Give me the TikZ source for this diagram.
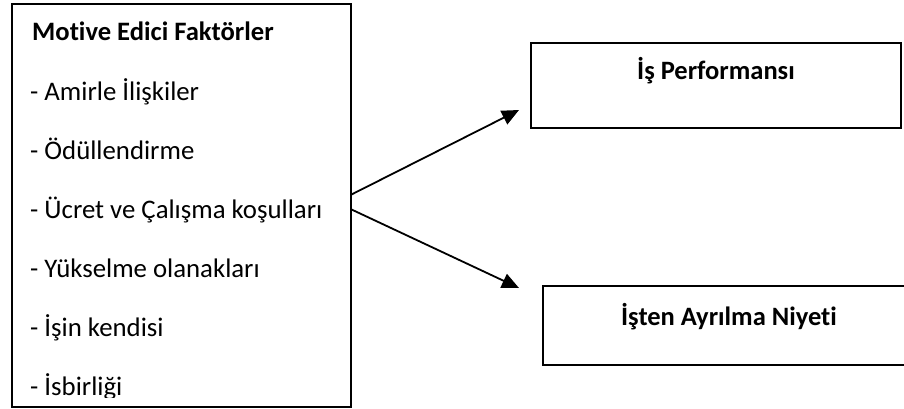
\documentclass[tikz,border=0pt]{standalone}
\usepackage{fontspec}
\setmainfont{Carlito}[Ligatures=CommonOff]
\usetikzlibrary{arrows.meta}
\begin{document}
\begin{tikzpicture}[x=1pt,y=-1pt,
  box/.style={draw=black,line width=2pt,rectangle,inner sep=0pt},
  item/.style={anchor=base west,inner sep=0pt,font=\fontsize{26.8}{32}\selectfont},
  head/.style={anchor=base,inner sep=0pt,font=\fontsize{26.5}{32}\selectfont\bfseries},
  conn/.style={line width=1.8pt,-{Triangle[length=17pt,width=15pt]}}]
\useasboundingbox (0,0) rectangle (904,408);
\fill[white] (0,0) rectangle (904,408);
% left box
\node[box,minimum width=339pt,minimum height=403pt] (L) at (181.5,205.5) {};
\begin{scope}
\clip (12,4) rectangle (350,397);
\node[item,font=\fontsize{26.6}{32}\selectfont\bfseries] (t0) at (32,40.5) {Motive Edici Faktörler};
\node[item] (t1) at (30,100) {- Amirle İlişkiler};
\node[item] (t2) at (30,159) {- Ödüllendirme};
\node[item] (t3) at (30,218) {- Ücret ve Çalışma koşulları};
\node[item] (t4) at (30,277) {- Yükselme olanakları};
\node[item] (t5) at (30,336) {- İşin kendisi};
\node[item] (t6) at (30,395) {- İsbirliği};
\end{scope}
% right boxes
\node[box,minimum width=370pt,minimum height=85pt] (P) at (716,85.5) {};
\node[head] (pt) at (P.center |- 0,79) {İş Performansı};
\node[box,minimum width=372pt,minimum height=79pt] (N) at (729,325.5) {};
\node[head] (nt) at (N.center |- 0,325) {İşten Ayrılma Niyeti};
% connectors
\coordinate (s1) at (350.5,195);
\coordinate (s2) at (350.5,209);
\coordinate (e1) at (519,110);
\coordinate (e2) at (519,288);
\draw[conn] (s1) -- (e1);
\draw[conn] (s2) -- (e2);
\end{tikzpicture}
\end{document}
